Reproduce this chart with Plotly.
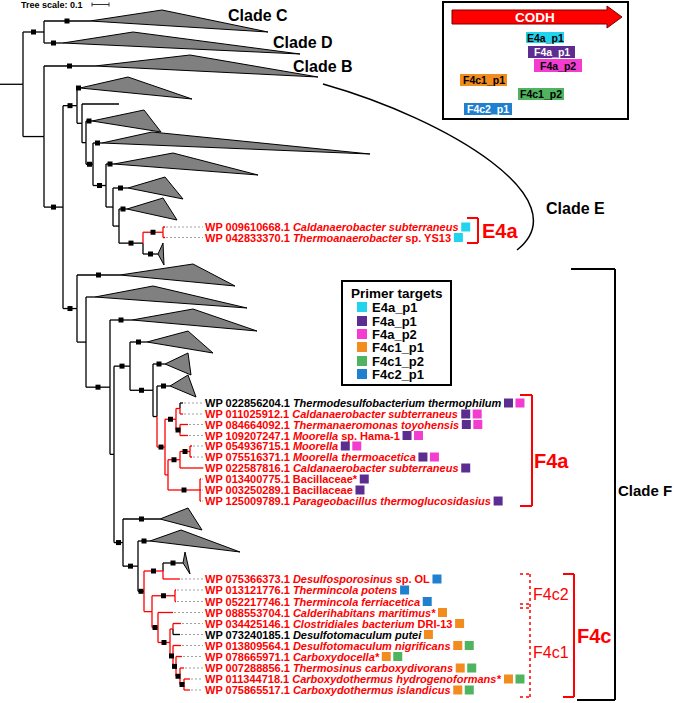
import plotly.graph_objects as go

FONT = "Arial, Liberation Sans, sans-serif"
RED = "#ff0000"
BLACK = "#000000"
GREY_FILL = "#808080"
BRANCH_COLOURS = {"k": BLACK, "r": RED}

# ---------------- primer data ----------------
PRIMERS = ["E4a_p1", "F4a_p1", "F4a_p2", "F4c1_p1", "F4c1_p2", "F4c2_p1"]
PRIMER_COLOURS = ["#22d3ee", "#5c2d91", "#f43dd0", "#f28c1e", "#4fb35f", "#1f80d0"]
PRIMER_TEXT_COLOURS = ["#000000", "#ffffff", "#000000", "#000000", "#000000", "#ffffff"]
# position of each primer on the CODH gene sketch (start, end, row-top, row-bottom)
PRIMER_SPAN_START = [526, 528, 534, 460, 518, 464]
PRIMER_SPAN_END = [564, 575, 582, 507, 564, 512]
PRIMER_ROW_TOP = [32, 46, 59, 74, 88, 103]
PRIMER_ROW_BOTTOM = [43, 58, 72, 86, 100, 115]
PRIMER_COLOUR = dict(zip(PRIMERS, PRIMER_COLOURS))

# ---------------- tree data ----------------
# internal nodes: (name, parent, depth, branch colour, bootstrap-supported)
INTERNAL_NODES = [
    ("root", None, 23, "k", False),
    ("CD", "root", 44, "k", True),
    ("N0", "root", 44, "k", False),
    ("NX", "N0", 63, "k", True),
    ("N1", "NX", 77, "k", True),
    ("N2", "N1", 82, "k", False),
    ("N3", "N2", 86, "k", False),
    ("N4", "N3", 93, "k", True),
    ("N5", "N4", 106, "k", True),
    ("N6", "N5", 113, "k", False),
    ("N7", "N6", 119, "k", False),
    ("N8", "N7", 143, "k", True),
    ("E4a", "N8", 163, "r", True),
    ("NP", "NX", 77, "k", True),
    ("NQ", "NP", 86, "k", False),
    ("NZ", "NQ", 110, "k", True),
    ("NW", "NZ", 114, "k", False),
    ("N130", "NW", 130, "k", True),
    ("NP2", "N130", 153, "k", True),
    ("NQ2", "NP2", 157, "k", False),
    ("R", "NQ2", 165, "r", True),
    ("S", "R", 176, "r", True),
    ("S1", "S", 180, "r", False),
    ("S2", "S", 180, "r", True),
    ("T", "R", 168, "r", False),
    ("U", "T", 180, "r", True),
    ("U1", "U", 190, "r", True),
    ("V", "T", 200, "r", True),
    ("AA", "NW", 123, "k", True),
    ("BB", "AA", 138, "k", True),
    ("CC", "BB", 144, "k", True),
    ("DD", "CC", 163, "r", True),
    ("EE", "CC", 152, "r", False),
    ("FF", "EE", 175, "r", True),
    ("GG", "EE", 158, "r", True),
    ("HH", "GG", 170, "r", True),
    ("II", "HH", 173, "r", False),
    ("JJ", "HH", 173, "r", True),
    ("KK", "JJ", 176, "r", True),
    ("LL", "KK", 180, "r", True),
    ("MM", "LL", 184, "r", True),
]

# collapsed clades: (name, parent, row, start depth, shortest depth, longest depth, supported)
COLLAPSED_CLADES = [
    ("cladeC", "CD", 21, 90, 162, 268, True),
    ("cladeD", "CD", 43, 63, 133, 300, True),
    ("cladeB", "N0", 66, 95, 190, 318, True),
    ("t88", "N1", 88, 80, 128, 192, True),
    ("t121", "N3", 121, 92, 144, 161, True),
    ("t143", "N4", 143, 102, 152, 370, True),
    ("t164", "N5", 164, 114, 173, 258, True),
    ("t188", "N6", 188, 128, 165, 183, True),
    ("t209", "N7", 209, 127, 163, 177, True),
    ("t254", "N8", 254, 158, 163, 164, True),
    ("t275", "NP", 275, 120, 193, 235, True),
    ("t297", "NQ", 297, 95, 153, 247, False),
    ("t320", "NZ", 320, 132, 193, 257, True),
    ("t342", "N130", 342, 147, 188, 213, True),
    ("t364", "NP2", 364, 165, 188, 191, True),
    ("t386", "NQ2", 386, 170, 188, 196, True),
    ("t519", "AA", 519, 160, 188, 202, True),
    ("t541", "BB", 541, 150, 181, 240, True),
    ("t563", "DD", 563, 183, 185, 190, True),
]
CLADE_HALF_HEIGHT = 11

# leaves: (parent, row, tip depth, colour, accession, name parts (text, italic), primer targets)
LEAVES = [
    ("N2", 104, 119, "k", None, [], []),
    ("E4a", 227, 165, "r", "WP 009610668.1", [("Caldanaerobacter subterraneus", True)], ["E4a_p1"]),
    ("E4a", 237.5, 165, "r", "WP 042833370.1", [("Thermoanaerobacter", True), (" sp. YS13", False)], ["E4a_p1"]),
    ("S1", 403, 183, "k", "WP 022856204.1", [("Thermodesulfobacterium thermophilum", True)], ["F4a_p1", "F4a_p2"]),
    ("S1", 414, 183, "r", "WP 011025912.1", [("Caldanaerobacter subterraneus", True)], ["F4a_p1", "F4a_p2"]),
    ("S2", 424.5, 188, "r", "WP 084664092.1", [("Thermanaeromonas toyohensis", True)], ["F4a_p1", "F4a_p2"]),
    ("S2", 435.5, 188, "r", "WP 109207247.1", [("Moorella", True), (" sp. Hama-1", False)], ["F4a_p1", "F4a_p2"]),
    ("U1", 446, 192, "r", "WP 054936715.1", [("Moorella", True)], ["F4a_p1", "F4a_p2"]),
    ("U1", 457, 192, "r", "WP 075516371.1", [("Moorella thermoacetica", True)], ["F4a_p1", "F4a_p2"]),
    ("U", 468, 203, "r", "WP 022587816.1", [("Caldanaerobacter subterraneus", True)], ["F4a_p1"]),
    ("V", 479, 201, "r", "WP 013400775.1", [("Bacillaceae*", False)], ["F4a_p1"]),
    ("V", 490, 201, "r", "WP 003250289.1", [("Bacillaceae", False)], ["F4a_p1"]),
    ("V", 501, 201, "r", "WP 125009789.1", [("Parageobacillus thermoglucosidasius", True)], ["F4a_p1"]),
    ("DD", 579, 180, "r", "WP 075366373.1", [("Desulfosporosinus", True), (" sp. OL", False)], ["F4c2_p1"]),
    ("FF", 590, 176, "r", "WP 013121776.1", [("Thermincola potens", True)], ["F4c2_p1"]),
    ("FF", 601.5, 176, "r", "WP 052217746.1", [("Thermincola ferriacetica", True)], ["F4c2_p1"]),
    ("GG", 612.5, 173, "r", "WP 088553704.1", [("Calderihabitans maritimus*", True)], ["F4c1_p1"]),
    ("II", 623.5, 181, "r", "WP 034425146.1", [("Clostridiales bacterium", True), (" DRI-13", False)], ["F4c1_p1"]),
    ("II", 634.5, 180, "k", "WP 073240185.1", [("Desulfotomaculum putei", True)], ["F4c1_p1"]),
    ("JJ", 645.5, 181, "r", "WP 013809564.1", [("Desulfotomaculum nigrificans", True)], ["F4c1_p1", "F4c1_p2"]),
    ("KK", 656.5, 182, "r", "WP 078665971.1", [("Carboxydocella*", True)], ["F4c1_p1", "F4c1_p2"]),
    ("LL", 668, 184, "r", "WP 007288856.1", [("Thermosinus carboxydivorans", True)], ["F4c1_p1", "F4c1_p2"]),
    ("MM", 679, 190, "r", "WP 011344718.1", [("Carboxydothermus hydrogenoformans*", True)], ["F4c1_p1", "F4c1_p2"]),
    ("MM", 690, 190, "r", "WP 075865517.1", [("Carboxydothermus islandicus", True)], ["F4c1_p1", "F4c1_p2"]),
]
LABEL_X = 205
LABEL_SIZE = 11

# clade names: (text, left x, centre y, size)
CLADE_NAMES = [("Clade C", 228, 15, 16), ("Clade D", 273, 42, 16), ("Clade B", 293, 66, 16),
               ("Clade E", 546, 208, 16), ("Clade F", 618, 490, 15)]

# ---------------- helpers ----------------
BOLD_W = {" ": 278, "*": 389, "-": 333, ".": 278, "_": 556}
for d in "0123456789":
    BOLD_W[d] = 556
BOLD_W.update(dict(zip("ABCDEFGHIJKLMNOPQRSTUVWXYZ",
    [722, 722, 722, 722, 667, 611, 778, 722, 278, 556, 722, 611, 833, 722, 778, 667, 778, 722, 667, 611, 722, 667, 944, 667, 667, 611])))
BOLD_W.update(dict(zip("abcdefghijklmnopqrstuvwxyz",
    [556, 611, 556, 611, 556, 333, 611, 611, 278, 278, 556, 278, 889, 611, 611, 611, 611, 389, 556, 333, 611, 556, 778, 556, 556, 500])))


def text_width(s, size):
    return sum(BOLD_W.get(ch, 556) for ch in s) * size / 1000.0


def ann(x, y, text, size, color=BLACK, xanchor="left", bold=True):
    return dict(x=x, y=y, xref="x", yref="y", text=(f"<b>{text}</b>" if bold else text),
                showarrow=False, xanchor=xanchor, yanchor="middle",
                font=dict(size=size, color=color, family=FONT), borderpad=0, borderwidth=0)


# ---------------- build tree geometry ----------------
nodes = {}
for name, parent, x, col, sup in INTERNAL_NODES:
    nodes[name] = {"parent": parent, "x": x, "col": col, "sup": sup, "y": None, "kids": []}
for name, parent, y, x, xmin, xmax, sup in COLLAPSED_CLADES:
    nodes[name] = {"parent": parent, "x": x, "col": "k", "sup": sup, "y": y, "kids": []}
for i, lf in enumerate(LEAVES):
    parent, y, tip, col = lf[0], lf[1], lf[2], lf[3]
    nodes[f"leaf{i}"] = {"parent": parent, "x": tip, "col": col, "sup": False, "y": y, "kids": []}
for name, n in nodes.items():
    if n["parent"]:
        nodes[n["parent"]]["kids"].append(name)


def node_y(name):
    n = nodes[name]
    if n["y"] is None:
        ys = [node_y(k) for k in n["kids"]]
        n["y"] = (min(ys) + max(ys)) / 2.0
    return n["y"]


node_y("root")

segs = {"k": ([], []), "r": ([], [])}


def add_seg(col, x0, y0, x1, y1):
    xs, ys = segs[col]
    xs += [x0, x1, None]
    ys += [y0, y1, None]


root = nodes["root"]
add_seg("k", 0, root["y"], root["x"], root["y"])
sup_x, sup_y = [], []
for name, n in nodes.items():
    if not n["parent"]:
        continue
    p = nodes[n["parent"]]
    add_seg(n["col"], p["x"], n["y"], n["x"], n["y"])
    add_seg(n["col"], p["x"], p["y"], p["x"], n["y"])
    if n["sup"]:
        sup_x.append((p["x"] + n["x"]) / 2.0)
        sup_y.append(n["y"])

fig = go.Figure()

# collapsed clade triangles
tx, ty = [], []
for name, parent, y, x, xmin, xmax, sup in COLLAPSED_CLADES:
    tx += [x, xmin, xmax, x, None]
    ty += [y, y - CLADE_HALF_HEIGHT, y + CLADE_HALF_HEIGHT, y, None]
fig.add_trace(go.Scatter(x=tx, y=ty, mode="lines", fill="toself", fillcolor=GREY_FILL,
                         line=dict(color=BLACK, width=1), hoverinfo="skip"))

# leader lines
lx, ly = [], []
for lf in LEAVES:
    parent, y, tip, col, acc = lf[:5]
    if acc:
        lx += [tip + 1, LABEL_X - 2, None]
        ly += [y, y, None]
fig.add_trace(go.Scatter(x=lx, y=ly, mode="lines", line=dict(color="#a0a0a0", width=1, dash="2px,2px"),
                         hoverinfo="skip"))

# branches
for col, (xs, ys) in segs.items():
    fig.add_trace(go.Scatter(x=xs, y=ys, mode="lines", line=dict(color=BRANCH_COLOURS[col], width=1.3),
                             hoverinfo="skip"))

# bootstrap markers
fig.add_trace(go.Scatter(x=sup_x, y=sup_y, mode="markers",
                         marker=dict(symbol="square", size=5, color=BLACK, line=dict(width=0)),
                         hoverinfo="skip"))

annotations = []
# leaf labels + primer squares
sq_x, sq_y, sq_c = [], [], []
for lf in LEAVES:
    parent, y, tip, col, acc, parts, prim = lf
    if not acc:
        continue
    html = acc + " " + "".join((f"<i>{t}</i>" if it else t) for t, it in parts)
    annotations.append(ann(LABEL_X, y, html, LABEL_SIZE, BRANCH_COLOURS[col]))
    width = text_width(acc + " " + "".join(t for t, it in parts), LABEL_SIZE)
    x0 = LABEL_X + width + 2.5 + 4.5
    for k, pr in enumerate(prim):
        sq_x.append(x0 + 11.5 * k)
        sq_y.append(y)
        sq_c.append(PRIMER_COLOUR[pr])
fig.add_trace(go.Scatter(x=sq_x, y=sq_y, mode="markers",
                         marker=dict(symbol="square", size=9, color=sq_c, line=dict(width=0)),
                         hoverinfo="skip"))

# primer legend squares
LEG_ROWS = [307, 321, 334, 347, 361, 374]
fig.add_trace(go.Scatter(x=[362] * len(PRIMERS), y=LEG_ROWS, mode="markers",
                         marker=dict(symbol="square", size=10, color=PRIMER_COLOURS, line=dict(width=0)),
                         hoverinfo="skip"))
for name, yy in zip(PRIMERS, LEG_ROWS):
    annotations.append(ann(372, yy, name, 13))
annotations.append(ann(396.5, 293, "Primer targets", 13.5, xanchor="center"))

# tree scale
fig.add_trace(go.Scatter(x=[92, 92, None, 92, 109, None, 109, 109], y=[2.5, 6.5, None, 4.5, 4.5, None, 2.5, 6.5],
                         mode="lines", line=dict(color="#333333", width=1), hoverinfo="skip"))
annotations.append(ann(21, 5, "Tree scale: 0.1", 9))

# clade names
for txt, x, y, s in CLADE_NAMES:
    annotations.append(ann(x, y, txt, s))

shapes = []


def line(x0, y0, x1, y1, color=BLACK, width=2, dash="solid"):
    shapes.append(dict(type="line", xref="x", yref="y", x0=x0, y0=y0, x1=x1, y1=y1,
                       line=dict(color=color, width=width, dash=dash)))


def bracket(xl, xr, y0, y1, color, width=2, dash="solid"):
    line(xl, y0, xr, y0, color, width, dash)
    line(xr, y0, xr, y1, color, width, dash)
    line(xl, y1, xr, y1, color, width, dash)


bracket(467, 478, 218, 243, RED)
annotations.append(ann(482, 231, "E4a", 20, RED))
bracket(520, 532, 395, 506, RED)
annotations.append(ann(534, 461, "F4a", 20, RED))
bracket(563, 574, 574, 697, RED)
annotations.append(ann(577, 636, "F4c", 20, RED))
# dotted sub-brackets for F4c2 / F4c1
line(520, 574, 530, 574, RED, 1.5, "dot")
line(530, 574, 530, 697, RED, 1.5, "dot")
line(520, 604, 530, 604, RED, 1.5, "dot")
line(520, 608, 530, 608, RED, 1.5, "dot")
line(520, 697, 530, 697, RED, 1.5, "dot")
annotations.append(ann(533, 594, "F4c2", 16, RED, bold=False))
annotations.append(ann(533, 652, "F4c1", 16, RED, bold=False))
# Clade F bracket
line(571, 269, 615, 269, BLACK, 2)
line(615, 269, 615, 700, BLACK, 2)
line(577, 700, 615, 700, BLACK, 2)
# Clade E arc
shapes.append(dict(type="path", xref="x", yref="y", path="M 323 84 C 450 120, 580 200, 517 250",
                   line=dict(color=BLACK, width=1.5)))

# primer targets legend box
shapes.append(dict(type="rect", xref="x", yref="y", x0=342, x1=451, y0=281, y1=385,
                   line=dict(color=BLACK, width=2), fillcolor="rgba(255,255,255,0)"))
# CODH sketch box
shapes.append(dict(type="rect", xref="x", yref="y", x0=443, x1=628, y0=2, y1=119,
                   line=dict(color=BLACK, width=2), fillcolor="rgba(255,255,255,0)"))
shapes.append(dict(type="path", xref="x", yref="y",
                   path="M 452 10 L 607 10 L 607 6 L 622 17 L 607 28 L 607 24 L 452 24 Z",
                   fillcolor=RED, line=dict(color="#7a0000", width=1)))
annotations.append(ann(535, 17, "CODH", 13.5, "#ffffff", xanchor="center"))
for name, x0, x1, y0, y1, c, tc in zip(PRIMERS, PRIMER_SPAN_START, PRIMER_SPAN_END, PRIMER_ROW_TOP,
                                         PRIMER_ROW_BOTTOM, PRIMER_COLOURS, PRIMER_TEXT_COLOURS):
    shapes.append(dict(type="rect", xref="x", yref="y", x0=x0, x1=x1, y0=y0, y1=y1,
                       fillcolor=c, line=dict(width=0), layer="below"))
    annotations.append(ann((x0 + x1) / 2, (y0 + y1) / 2, name, 10.5, tc, xanchor="center"))

fig.update_layout(
    width=676, height=703, autosize=False,
    margin=dict(l=0, r=0, t=0, b=0),
    paper_bgcolor="white", plot_bgcolor="white",
    showlegend=False,
    xaxis=dict(range=[0, 676], visible=False, fixedrange=True),
    yaxis=dict(range=[703, 0], visible=False, fixedrange=True),
    shapes=shapes, annotations=annotations,
    font=dict(family=FONT),
)
fig.write_html("out.html", config={"displayModeBar": False},
               post_script="document.body.style.margin='0px';document.body.style.overflow='hidden';")
